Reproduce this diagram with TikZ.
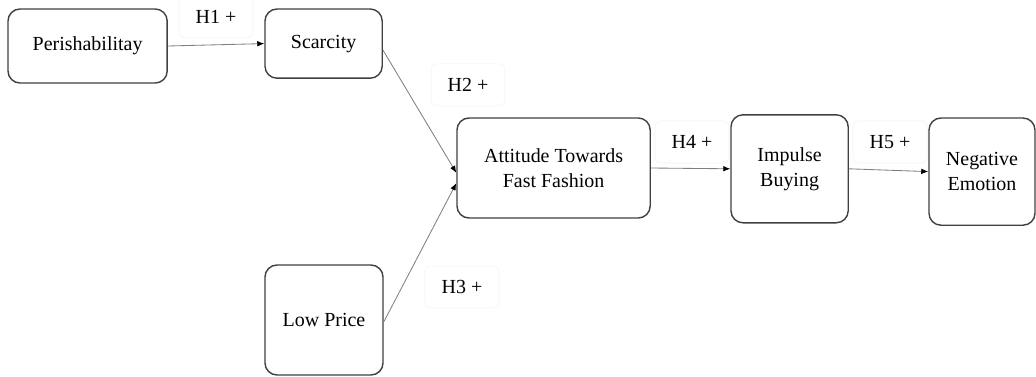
\documentclass[tikz,border=0pt]{standalone}
\usepackage{fontspec}
\setmainfont{Liberation Serif}
\usetikzlibrary{arrows.meta}

\begin{document}
\begin{tikzpicture}[
  var/.style={draw=black!75, line width=1pt, rounded corners=0.3cm, align=center, inner sep=0pt, font=\fontsize{14.2}{17.8}\selectfont},
  hyp/.style={draw=black!5, rounded corners=0.15cm, minimum width=1.85cm, minimum height=1.05cm, font=\fontsize{14.2}{17.8}\selectfont},
  link/.style={draw=gray, line width=0.6pt, -{Latex[length=5pt,width=4pt,color=black]}}
]
\useasboundingbox (0,0) rectangle (25.9,9.4);

% constructs
\node[var, minimum width=3.98cm, minimum height=1.85cm] (perish) at (2.19,8.25) {Perishabilitay};
\node[var, minimum width=2.93cm, minimum height=1.73cm] (scarcity) at (8.09,8.31) {Scarcity};
\node[var, minimum width=2.95cm, minimum height=2.75cm] (price) at (8.1,1.4) {Low Price};
\node[var, minimum width=4.83cm, minimum height=2.5cm] (attitude) at (13.84,5.2) {Attitude Towards\\Fast Fashion};
\node[var, minimum width=2.93cm, minimum height=2.7cm] (impulse) at (19.74,5.18) {Impulse\\Buying};
\node[var, minimum width=2.65cm, minimum height=2.68cm] (negative) at (24.55,5.11) {Negative\\Emotion};

% hypotheses
\node[hyp] (h1) at (5.4,8.98) {H1 +};
\node[hyp] (h2) at (11.7,7.28) {H2 +};
\node[hyp] (h3) at (11.55,2.23) {H3 +};
\node[hyp] (h4) at (17.3,5.85) {H4 +};
\node[hyp] (h5) at (22.25,5.85) {H5 +};

\draw[link] (perish.east) -- (scarcity.west);
\draw[link] ([yshift=-0.16cm]scarcity.east) -- ([yshift=-0.12cm]attitude.west);
\draw[link] ([yshift=-0.05cm]price.east) -- ([yshift=-0.38cm]attitude.west);
\draw[link] (attitude.east) -- (impulse.west);
\draw[link] (impulse.east) -- (negative.west);
\end{tikzpicture}
\end{document}
